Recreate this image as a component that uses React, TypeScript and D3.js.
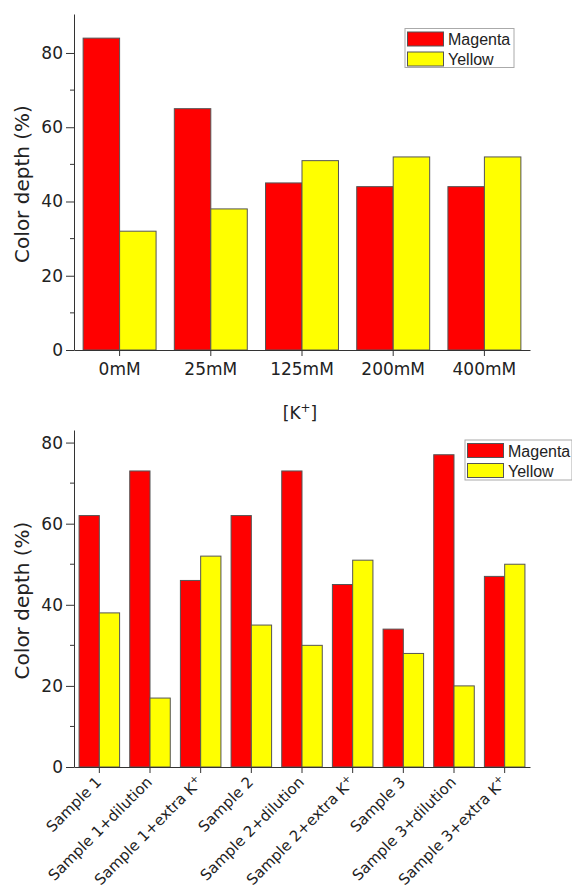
import React, { useEffect, useRef } from 'react';
import * as d3 from 'd3';

// top panel: potassium concentration
const topCategories = ["0mM", "25mM", "125mM", "200mM", "400mM"];
const topMagenta = [84, 65, 45, 44, 44];
const topYellow = [32, 38, 51, 52, 52];

// bottom panel: samples
const bottomCategories = [
  "Sample 1", "Sample 1+dilution", "Sample 1+extra K+",
  "Sample 2", "Sample 2+dilution", "Sample 2+extra K+",
  "Sample 3", "Sample 3+dilution", "Sample 3+extra K+"
];
const bottomMagenta = [62, 73, 46, 62, 73, 45, 34, 77, 47];
const bottomYellow = [38, 17, 52, 35, 30, 51, 28, 20, 50];

const yMajorTicks = [0, 20, 40, 60, 80];
const yMinorTicks = [10, 30, 50, 70];
const seriesNames = ["Magenta", "Yellow"];
const seriesColors = ["#ff0000", "#ffff00"];

const AXIS_FONT = "'DejaVu Sans', sans-serif";
const LEGEND_FONT = "'Liberation Sans', Arial, sans-serif";
const TEXT = "#222";
const AXIS = "#333";
const EDGE = "#555";

// writes "K+" with the plus raised
function writeLabel(sel: any, label: string) {
  if (label.endsWith("K+")) {
    sel.append("tspan").text(label.slice(0, -1));
    sel.append("tspan").attr("baseline-shift", "super").attr("font-size", "0.7em").text("+");
  } else {
    sel.text(label);
  }
}

function drawPanel(svg: any, opts: any) {
  const { categories, magenta, yellow, top, bottom, yMax, rotate, legend } = opts;
  const left = 74, right = 530;

  const scaleY = d3.scaleLinear().domain([0, yMax]).range([bottom, top]);
  const scaleX = d3.scaleBand<string>()
    .domain(categories)
    .range([left, right])
    .paddingInner(0.2)
    .paddingOuter(0.1);
  const scaleSeries = d3.scaleBand<number>()
    .domain([0, 1])
    .range([0, scaleX.bandwidth()]);

  const g = svg.append("g");

  const rows = categories.map((c: string, i: number) => ({ c, v: [magenta[i], yellow[i]] }));

  // bars
  g.append("g")
    .selectAll("g")
    .data(rows)
    .enter()
    .append("g")
    .attr("transform", (d: any) => `translate(${scaleX(d.c)},0)`)
    .selectAll("rect")
    .data((d: any) => d.v)
    .enter()
    .append("rect")
    .attr("x", (d: number, i: number) => scaleSeries(i))
    .attr("y", (d: number) => scaleY(d))
    .attr("width", scaleSeries.bandwidth())
    .attr("height", (d: number) => scaleY(0) - scaleY(d))
    .attr("fill", (d: number, i: number) => seriesColors[i])
    .attr("stroke", EDGE)
    .attr("stroke-width", 1);

  // y axis
  const yAxis = g.append("g")
    .attr("transform", `translate(${left},0)`)
    .call(d3.axisLeft(scaleY).tickValues(yMajorTicks).tickSize(8).tickSizeOuter(0).tickPadding(3));
  yAxis.selectAll("line").attr("stroke", AXIS);
  yAxis.select(".domain").attr("stroke", AXIS);
  yAxis.selectAll("text").attr("font-size", 17).attr("font-family", AXIS_FONT).attr("fill", TEXT);
  yAxis.selectAll(".minor")
    .data(yMinorTicks)
    .enter()
    .append("line")
    .attr("x1", -4)
    .attr("x2", 0)
    .attr("y1", (d: number) => scaleY(d))
    .attr("y2", (d: number) => scaleY(d))
    .attr("stroke", AXIS);

  // x axis
  const xAxis = g.append("g")
    .attr("transform", `translate(0,${bottom})`)
    .call(d3.axisBottom(scaleX).tickSize(6).tickSizeOuter(0).tickFormat(() => ""));
  xAxis.selectAll("line").attr("stroke", AXIS);
  xAxis.select(".domain").attr("stroke", AXIS);

  // category labels
  const labels = g.append("g")
    .selectAll("text")
    .data(categories)
    .enter()
    .append("text")
    .attr("font-size", rotate ? 15 : 17)
    .attr("font-family", AXIS_FONT)
    .attr("fill", TEXT);
  if (rotate) {
    labels
      .attr("text-anchor", "end")
      .attr("transform", (d: string) => `translate(${(scaleX(d) as number) + scaleX.bandwidth() / 2 + 3},${bottom + 16}) rotate(-45)`);
  } else {
    labels
      .attr("text-anchor", "middle")
      .attr("x", (d: string) => (scaleX(d) as number) + scaleX.bandwidth() / 2)
      .attr("y", bottom + 25);
  }
  labels.each(function (this: any, d: string) { writeLabel(d3.select(this), d); });

  // y title
  g.append("text")
    .attr("transform", `translate(29,${(top + bottom) / 2 + 2}) rotate(-90)`)
    .attr("text-anchor", "middle")
    .attr("font-size", 20)
    .attr("font-family", AXIS_FONT)
    .attr("fill", TEXT)
    .text("Color depth (%)");

  // legend
  const lg = g.append("g");
  lg.append("rect")
    .attr("x", legend.x).attr("y", legend.y)
    .attr("width", legend.w).attr("height", legend.h)
    .attr("fill", "white").attr("stroke", "#aaa").attr("stroke-width", 1);
  seriesNames.forEach((name, i) => {
    const sy = legend.y + 3.5 + i * 20;
    lg.append("rect")
      .attr("x", legend.x + 2.5).attr("y", sy)
      .attr("width", 36).attr("height", 14)
      .attr("fill", seriesColors[i]).attr("stroke", EDGE);
    lg.append("text")
      .attr("x", legend.x + 43).attr("y", sy + 13)
      .attr("font-size", 16).attr("font-family", LEGEND_FONT).attr("fill", TEXT)
      .text(name);
  });
}

export default function App() {
  const ref = useRef<SVGSVGElement>(null);

  useEffect(() => {
    const svg = d3.select(ref.current);
    svg.selectAll("*").remove();

    drawPanel(svg, {
      categories: topCategories, magenta: topMagenta, yellow: topYellow,
      top: 14, bottom: 350, yMax: 90.5, rotate: false,
      legend: { x: 405, y: 28.5, w: 109, h: 39 }
    });

    // x title of the top panel
    const t = svg.append("text")
      .attr("x", 300).attr("y", 419)
      .attr("text-anchor", "middle")
      .attr("font-size", 17).attr("font-family", AXIS_FONT).attr("fill", TEXT);
    t.append("tspan").text("[K");
    t.append("tspan").attr("baseline-shift", "super").attr("font-size", "0.7em").text("+");
    t.append("tspan").text("]");

    drawPanel(svg, {
      categories: bottomCategories, magenta: bottomMagenta, yellow: bottomYellow,
      top: 430, bottom: 767, yMax: 83.1, rotate: true,
      legend: { x: 465, y: 440, w: 107, h: 40 }
    });
  }, []);

  return (
    <svg ref={ref} width={572} height={890}
      style={{ position: "absolute", left: 0, top: 0, background: "white" }} />
  );
}
